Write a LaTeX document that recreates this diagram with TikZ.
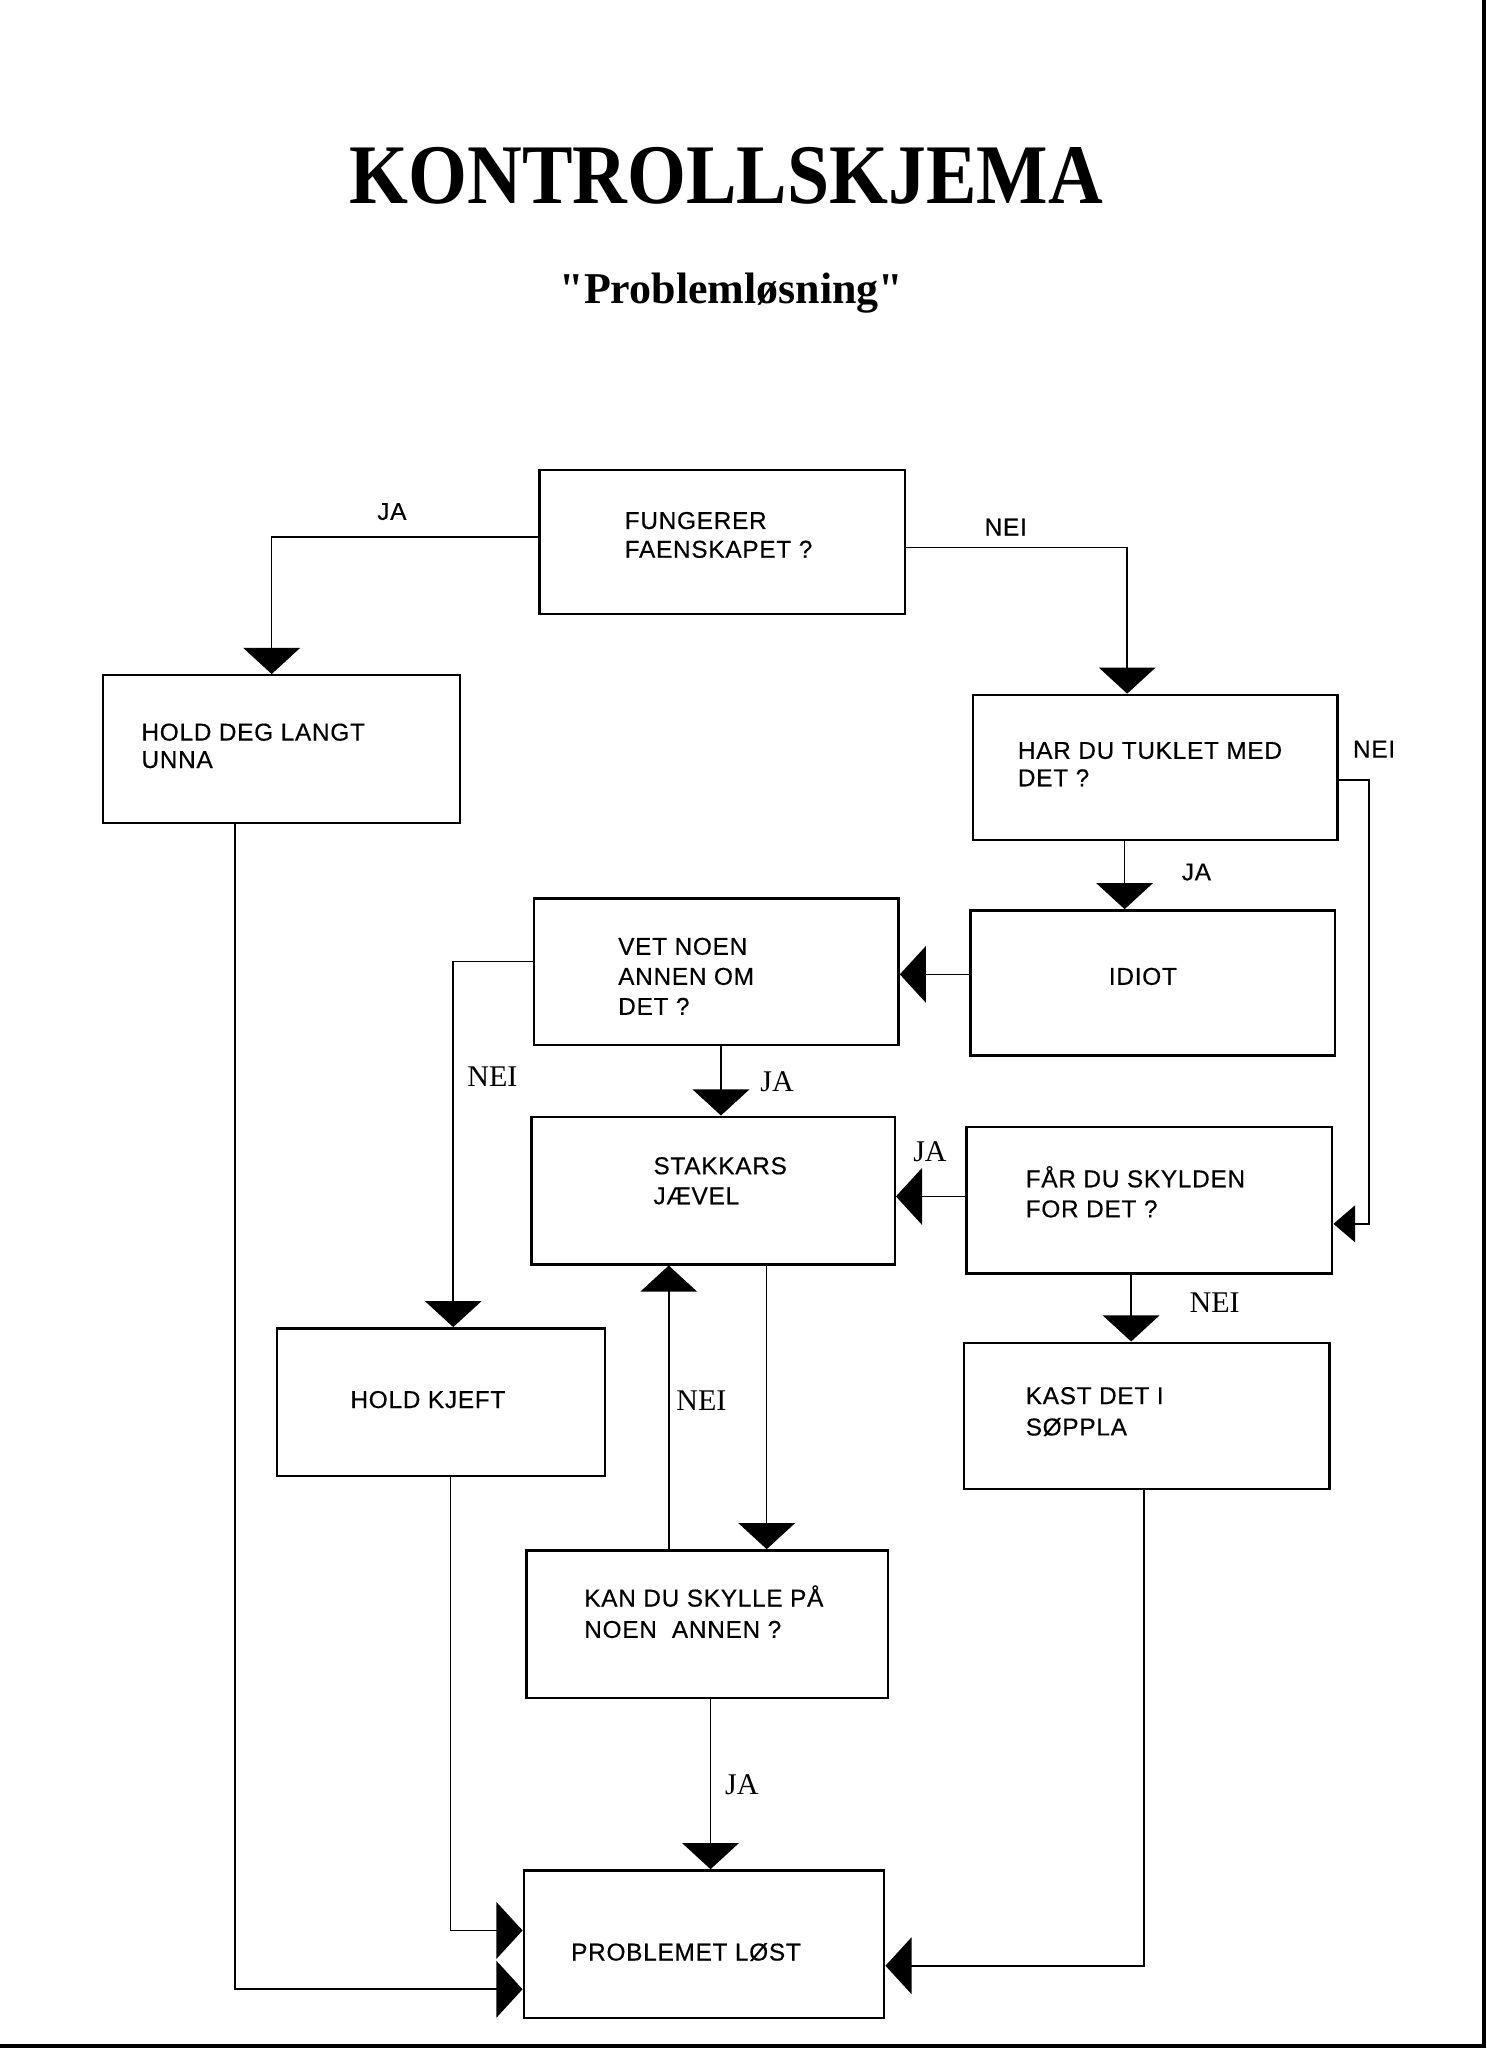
\documentclass[tikz,border=0pt]{standalone}
\usepackage{fontspec}
\usepackage{graphicx}
\setmainfont{Liberation Serif}
\newfontfamily\boxfont[LetterSpace=3,FakeBold=0.4]{Liberation Sans}
\usetikzlibrary{arrows.meta,fit,calc}
\tikzset{
  box/.style={draw, line width=1.1pt, inner sep=0pt, rectangle},
  btxt/.style={inner sep=0pt, anchor=base west, font=\boxfont\fontsize{11.2}{13}\selectfont},
  slbl/.style={inner sep=0pt, anchor=base, font=\boxfont\fontsize{11.2}{13}\selectfont},
  rlbl/.style={inner sep=0pt, anchor=base, font=\fontsize{13.8}{16}\selectfont},
  conn/.style={line width=0.7pt},
  arr/.style={-{Triangle[width=26pt,length=12pt]}},
  arrs/.style={-{Triangle[width=17pt,length=10pt]}}
}
\begin{document}
\begin{tikzpicture}[x=0.6pt,y=-0.6pt]
\useasboundingbox (0,0) rectangle (1138,1568);
\fill[white] (0,0) rectangle (1138,1568);
\fill[black] (1135,0) rectangle (1138,1568);
\fill[black] (0,1565) rectangle (1138,1568);

% title
\node[inner sep=0pt, anchor=base, font=\bfseries\fontsize{34.8}{40}\selectfont] (title) at (556,156) {\scalebox{1}[1.12]{KONTROLLSKJEMA}};
\node[inner sep=0pt, anchor=base, font=\bfseries\fontsize{20.2}{24}\selectfont] (sub) at (560,232) {\textquotedbl Problemløsning\textquotedbl};

% boxes
\node[box, fit={(413,360) (693,470)}] (fung) {};
\node[box, fit={(79,517) (352,630)}] (deg) {};
\node[box, fit={(745,532) (1024,643)}] (har) {};
\node[box, fit={(743,697) (1022,808)}] (idiot) {};
\node[box, fit={(409,688) (688,800)}] (vet) {};
\node[box, fit={(407,855) (685,968)}] (stak) {};
\node[box, fit={(740,863) (1020,975)}] (far) {};
\node[box, fit={(212,1017) (463,1130)}] (kjeft) {};
\node[box, fit={(738,1028) (1018,1140)}] (kast) {};
\node[box, fit={(403,1187) (680,1300)}] (kan) {};
\node[box, fit={(401,1432) (677,1545)}] (prob) {};

% box texts
\node[btxt] (fung1) at (478,405) {FUNGERER};
\node[btxt] (fung2) at (478,427) {FAENSKAPET ?};
\node[btxt] (deg1) at (108,567) {HOLD DEG LANGT};
\node[btxt] (deg2) at (108,588) {UNNA};
\node[btxt] (har1) at (779,581) {HAR DU TUKLET MED};
\node[btxt] (har2) at (779,602) {DET ?};
\node[btxt, anchor=base] (idiot1) at (875,754) {IDIOT};
\node[btxt] (vet1) at (473,731) {VET NOEN};
\node[btxt] (vet2) at (473,754) {ANNEN OM};
\node[btxt] (vet3) at (473,777) {DET ?};
\node[btxt] (stak1) at (500,899) {STAKKARS};
\node[btxt] (stak2) at (500,922) {JÆVEL};
\node[btxt] (far1) at (785,909) {FÅR DU SKYLDEN};
\node[btxt] (far2) at (785,932) {FOR DET ?};
\node[btxt] (kjeft1) at (268,1078) {HOLD KJEFT};
\node[btxt] (kast1) at (785,1075) {KAST DET I};
\node[btxt] (kast2) at (785,1099) {SØPPLA};
\node[btxt] (kan1) at (447,1230) {KAN DU SKYLLE PÅ};
\node[btxt] (kan2) at (447,1254) {NOEN\ \ ANNEN ?};
\node[btxt] (prob1) at (437,1501) {PROBLEMET LØST};

% connectors
\draw[conn,arr] (fung.west |- 0,411) -| (208,0 |- deg.north);
\draw[conn,arr] (fung.east |- 0,419) -| (863,0 |- har.north);
\draw[conn,arr] (861,0 |- har.south) -- (861,0 |- idiot.north);
\draw[conn,arrs] (har.east |- 0,597) -| (1048,937) -- (far.east |- 0,937);
\draw[conn,arr] (idiot.west |- 0,746) -- (vet.east |- 0,746);
\draw[conn,arr] (552,0 |- vet.south) -- (552,0 |- stak.north);
\draw[conn,arr] (vet.west |- 0,736) -| (347,0 |- kjeft.north);
\draw[conn,arr] (far.west |- 0,916) -- (stak.east |- 0,916);
\draw[conn,arr] (866,0 |- far.south) -- (866,0 |- kast.north);
\draw[conn,arr] (587,0 |- stak.south) -- (587,0 |- kan.north);
\draw[conn,arr] (512,0 |- kan.north) -- (512,0 |- stak.south);
\draw[conn,arr] (544,0 |- kan.south) -- (544,0 |- prob.north);
\draw[conn,arr] (345,0 |- kjeft.south) |- (prob.west |- 0,1478);
\draw[conn,arr] (180,0 |- deg.south) |- (prob.west |- 0,1523);
\draw[conn,arr] (876,0 |- kast.south) |- (prob.east |- 0,1505);

% labels
\node[slbl] (l1) at (300,398) {JA};
\node[slbl] (l2) at (770,410) {NEI};
\node[slbl] (l3) at (1052,580) {NEI};
\node[slbl] (l4) at (916,674) {JA};
\node[rlbl] (l5) at (377,832) {NEI};
\node[rlbl] (l6) at (595,836) {JA};
\node[rlbl] (l7) at (712,889) {JA};
\node[rlbl] (l8) at (930,1005) {NEI};
\node[rlbl] (l9) at (537,1080) {NEI};
\node[rlbl] (l10) at (568,1374) {JA};
\end{tikzpicture}
\end{document}
